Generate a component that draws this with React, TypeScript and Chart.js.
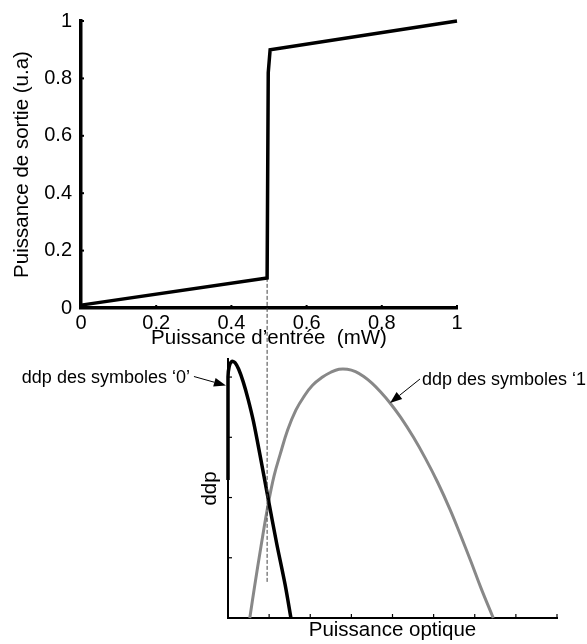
import React, { useEffect, useRef } from "react";
import { Chart, registerables } from "chart.js";

Chart.register(...registerables);

const W = 587;
const H = 644;
const FONT = "'Liberation Sans', Arial, Helvetica, sans-serif";

// ---------- Top chart: output power vs input power ----------
const inputPower = [0, 0.495, 0.498, 0.503, 1];
const outputPower = [0.01, 0.105, 0.82, 0.9, 1.0];
const topXTicks = [0, 0.2, 0.4, 0.6, 0.8, 1];
const topXTickLabels = ["0", "0.2", "0.4", "0.6", "0.8", "1"];
const topYTicks = [0, 0.2, 0.4, 0.6, 0.8, 1];
const topYTickLabels = ["0", "0.2", "0.4", "0.6", "0.8", "1"];
const thresholdX = 0.495;
const thresholdYFrom = 0.105;
const thresholdYTo = -0.96;

// ---------- Bottom chart: probability densities ----------
const ddp0X = [0, 0, 0.03, 0.09, 0.17, 0.26, 0.37, 0.49, 0.62, 0.78, 0.98, 1.18, 1.39, 1.53];
const ddp0Y = [2.29, 4.0, 4.18, 4.26, 4.24, 4.13, 3.92, 3.63, 3.26, 2.7, 1.97, 1.25, 0.55, 0];
const ddp1X = [0.53, 0.65, 0.8, 0.98, 1.12, 1.27, 1.45, 1.65, 1.85, 2.05, 2.3, 2.5, 2.7, 2.9, 3.1, 3.3, 3.5, 3.7, 3.94, 4.2, 4.51, 4.8, 5.1, 5.4, 5.64, 5.9, 6.15, 6.45];
const ddp1Y = [0, 0.54, 1.18, 1.9, 2.36, 2.72, 3.12, 3.45, 3.68, 3.86, 4.0, 4.08, 4.13, 4.13, 4.09, 4.01, 3.9, 3.76, 3.57, 3.33, 3.0, 2.65, 2.25, 1.8, 1.4, 0.95, 0.5, 0];
const bottomXTicks = [0, 1, 2, 3, 4, 5, 6, 7, 8];
const bottomYTicks = [0, 1, 2, 3, 4];
const annotationTexts = ["ddp des symboles \u20180\u2019", "ddp des symboles \u20181\u2019"];
const annotationTargetX = [-0.05, 3.94];
const annotationTargetY = [3.86, 3.57];

const toPoints = (xs: number[], ys: number[]) => xs.map((x, i) => ({ x, y: ys[i] }));

const inwardTicks = {
  id: "inwardTicks",
  afterDatasetsDraw(chart: any, _args: any, opts: any) {
    const { ctx, chartArea } = chart;
    const xs = chart.scales.x;
    const ys = chart.scales.y;
    ctx.save();
    ctx.strokeStyle = "#000";
    ctx.lineWidth = opts.width;
    xs.ticks.forEach((t: any) => {
      const px = xs.getPixelForValue(t.value);
      ctx.beginPath();
      ctx.moveTo(px, chartArea.bottom);
      ctx.lineTo(px, chartArea.bottom - opts.len);
      ctx.stroke();
    });
    ys.ticks.forEach((t: any) => {
      const py = ys.getPixelForValue(t.value);
      ctx.beginPath();
      ctx.moveTo(chartArea.left, py);
      ctx.lineTo(chartArea.left + opts.len, py);
      ctx.stroke();
    });
    ctx.restore();
  },
};

const arrowNotes = {
  id: "arrowNotes",
  afterDatasetsDraw(chart: any, _args: any, opts: any) {
    if (!opts || !opts.items) return;
    const { ctx } = chart;
    const xs = chart.scales.x;
    const ys = chart.scales.y;
    ctx.save();
    opts.items.forEach((it: any) => {
      const tx = xs.getPixelForValue(it.x);
      const ty = ys.getPixelForValue(it.y);
      const sx = tx + it.dx;
      const sy = ty + it.dy;
      const ang = Math.atan2(ty - sy, tx - sx);
      const hl = 12;
      const hw = 4.5;
      const bx = tx - hl * Math.cos(ang);
      const by = ty - hl * Math.sin(ang);
      ctx.strokeStyle = "#000";
      ctx.fillStyle = "#000";
      ctx.lineWidth = 1;
      ctx.beginPath();
      ctx.moveTo(sx, sy);
      ctx.lineTo(bx, by);
      ctx.stroke();
      ctx.beginPath();
      ctx.moveTo(tx, ty);
      ctx.lineTo(bx + hw * Math.sin(ang), by - hw * Math.cos(ang));
      ctx.lineTo(bx - hw * Math.sin(ang), by + hw * Math.cos(ang));
      ctx.closePath();
      ctx.fill();
      ctx.font = `18px ${FONT}`;
      ctx.textBaseline = "middle";
      ctx.textAlign = it.align;
      ctx.fillText(it.text, sx + it.tdx, sy + it.tdy);
    });
    ctx.restore();
  },
};

function topConfig(): any {
  return {
    type: "scatter",
    data: {
      datasets: [
        {
          data: toPoints(inputPower, outputPower),
          showLine: true,
          borderColor: "#000",
          borderWidth: 3.5,
          pointRadius: 0,
          tension: 0,
          clip: false,
        },
        {
          data: toPoints([thresholdX, thresholdX], [thresholdYFrom, thresholdYTo]),
          showLine: true,
          borderColor: "#444",
          borderWidth: 1,
          borderDash: [4, 2],
          pointRadius: 0,
          clip: false,
        },
      ],
    },
    options: {
      animation: false,
      responsive: false,
      devicePixelRatio: 1,
      events: [],
      layout: { padding: { left: 0, right: 130, top: 13, bottom: 288 } },
      plugins: {
        legend: { display: false },
        tooltip: { enabled: false },
        inwardTicks: { len: 3, width: 2 },
      },
      scales: {
        x: {
          type: "linear",
          min: 0,
          max: 1,
          afterBuildTicks: (s: any) => {
            s.ticks = topXTicks.map((v) => ({ value: v }));
          },
          afterFit: (s: any) => {
            s.height = 48;
          },
          grid: { display: false, drawTicks: false },
          border: { display: true, color: "#000", width: 3.5 },
          ticks: {
            padding: 3,
            color: "#000",
            autoSkip: false,
            maxRotation: 0,
            font: { family: FONT, size: 20 },
            callback: (_v: any, i: number) => topXTickLabels[i],
          },
          title: {
            display: true,
            text: "Puissance d\u2019entr\u00e9e  (mW)",
            color: "#000",
            font: { family: FONT, size: 20.5 },
            padding: { top: 0, bottom: 5 },
          },
        },
        y: {
          type: "linear",
          min: 0,
          max: 1,
          afterBuildTicks: (s: any) => {
            s.ticks = topYTicks.map((v) => ({ value: v }));
          },
          afterFit: (s: any) => {
            s.width = 81;
          },
          grid: { display: false, drawTicks: false },
          border: { display: true, color: "#000", width: 3.5 },
          ticks: {
            padding: 9,
            color: "#000",
            autoSkip: false,
            font: { family: FONT, size: 20 },
            callback: (_v: any, i: number) => topYTickLabels[i],
          },
          title: {
            display: true,
            text: "Puissance de sortie (u.a)",
            color: "#000",
            font: { family: FONT, size: 20.5 },
            padding: { top: 10, bottom: 0 },
          },
        },
      },
    },
    plugins: [inwardTicks],
  };
}

function bottomConfig(): any {
  return {
    type: "scatter",
    data: {
      datasets: [
        {
          data: toPoints(ddp0X, ddp0Y),
          showLine: true,
          borderColor: "#000",
          borderWidth: 3.5,
          pointRadius: 0,
          tension: 0.3,
          clip: false,
        },
        {
          data: toPoints(ddp1X, ddp1Y),
          showLine: true,
          borderColor: "#888888",
          borderWidth: 3,
          pointRadius: 0,
          tension: 0.4,
          clip: false,
        },
      ],
    },
    options: {
      animation: false,
      responsive: false,
      devicePixelRatio: 1,
      events: [],
      layout: { padding: { left: 196, right: 30, top: 359, bottom: 1 } },
      plugins: {
        legend: { display: false },
        tooltip: { enabled: false },
        inwardTicks: { len: 4, width: 1.2 },
        arrowNotes: {
          items: [
            { text: annotationTexts[0], x: annotationTargetX[0], y: annotationTargetY[0], dx: -32, dy: -9, tdx: -4, tdy: 1.5, align: "right" },
            { text: annotationTexts[1], x: annotationTargetX[1], y: annotationTargetY[1], dx: 30, dy: -24, tdx: 2, tdy: 1, align: "left" },
          ],
        },
      },
      scales: {
        x: {
          type: "linear",
          min: 0,
          max: 8,
          afterBuildTicks: (s: any) => {
            s.ticks = bottomXTicks.map((v) => ({ value: v }));
          },
          afterFit: (s: any) => {
            s.height = 25;
          },
          grid: { display: false, drawTicks: false },
          border: { display: true, color: "#000", width: 2 },
          ticks: { display: false },
          title: {
            display: true,
            text: "Puissance optique",
            color: "#000",
            font: { family: FONT, size: 20.5 },
            padding: { top: 0, bottom: 0 },
          },
        },
        y: {
          type: "linear",
          min: 0,
          max: 4.3,
          afterBuildTicks: (s: any) => {
            s.ticks = bottomYTicks.map((v) => ({ value: v }));
          },
          afterFit: (s: any) => {
            s.width = 32;
          },
          grid: { display: false, drawTicks: false },
          border: { display: true, color: "#000", width: 2 },
          ticks: { display: false },
          title: {
            display: true,
            text: "ddp",
            color: "#000",
            font: { family: FONT, size: 20.5 },
            padding: { top: 2, bottom: 0 },
          },
        },
      },
    },
    plugins: [inwardTicks, arrowNotes],
  };
}

export default function App() {
  const topRef = useRef<HTMLCanvasElement>(null);
  const botRef = useRef<HTMLCanvasElement>(null);

  useEffect(() => {
    const bot = new Chart(botRef.current as HTMLCanvasElement, bottomConfig());
    const top = new Chart(topRef.current as HTMLCanvasElement, topConfig());
    return () => {
      top.destroy();
      bot.destroy();
    };
  }, []);

  return (
    <div style={{ position: "absolute", left: 0, top: 0, width: W, height: H, background: "#fff", overflow: "hidden" }}>
      <canvas ref={botRef} width={W} height={H} style={{ position: "absolute", left: 0, top: 0 }} />
      <canvas ref={topRef} width={W} height={H} style={{ position: "absolute", left: 0, top: 0 }} />
    </div>
  );
}
